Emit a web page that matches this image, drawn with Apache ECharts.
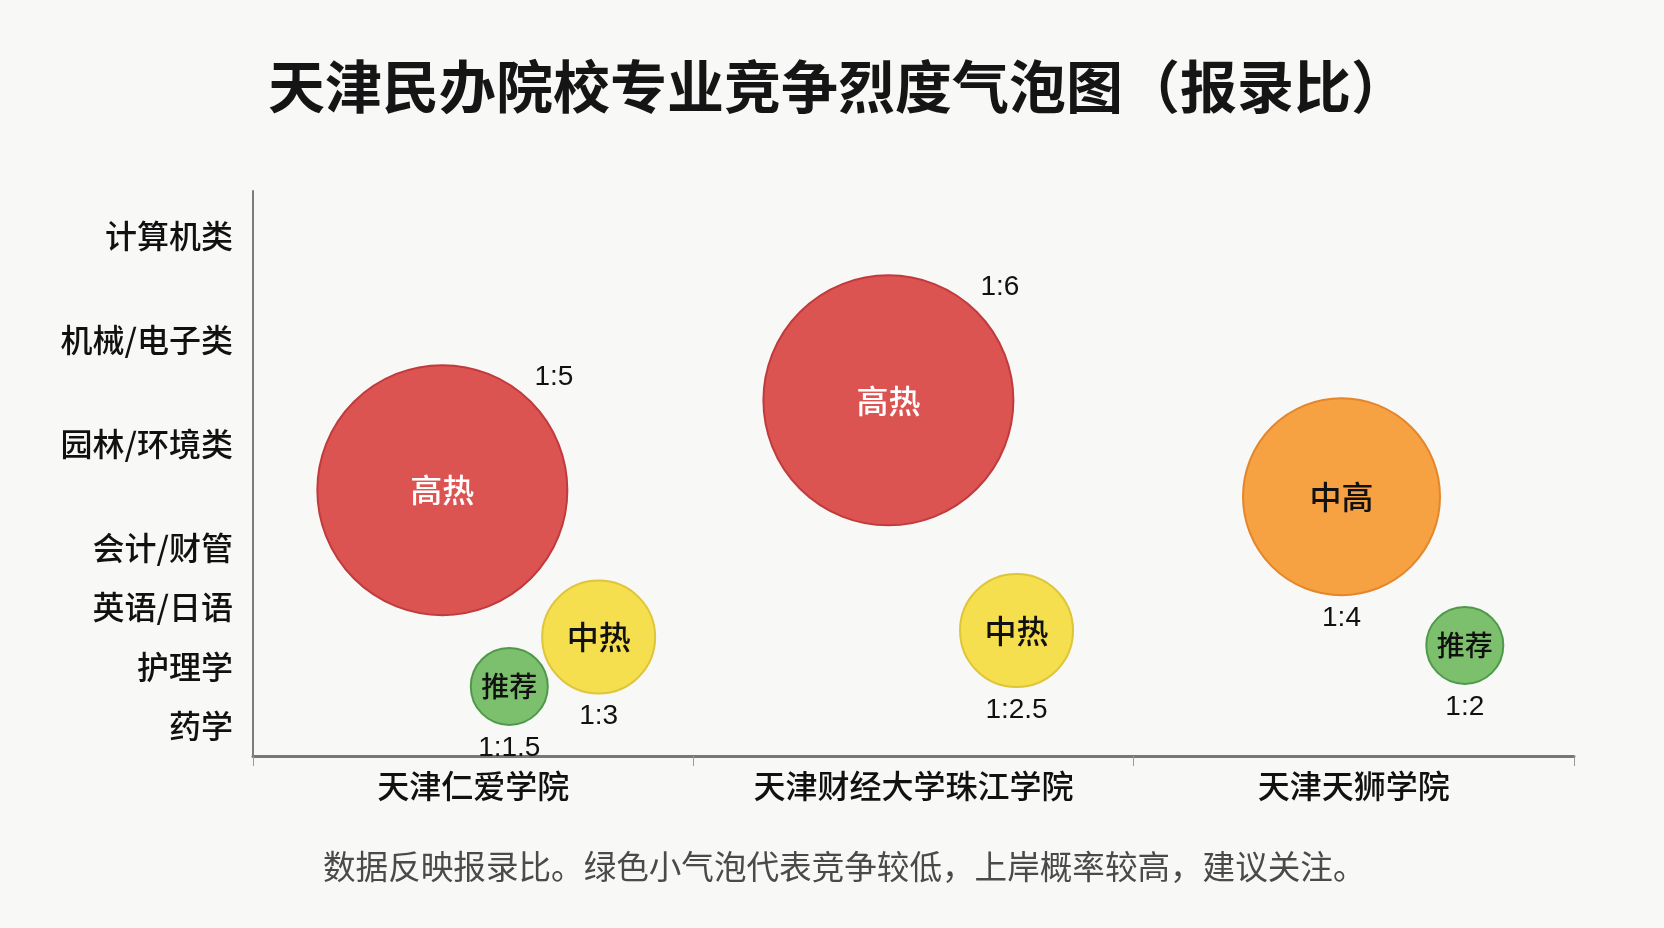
<!DOCTYPE html>
<html>
<head>
<meta charset="utf-8">
<script src="https://cdn.jsdelivr.net/npm/echarts@6/dist/echarts.min.js"></script>
<style>
html, body { margin: 0; padding: 0; background: #f8f8f6; }
#bubble_chart { width: 1664px; height: 928px; }
</style>
</head>
<body>
<div id="bubble_chart"></div>
<script>
var colleges = ['天津仁爱学院', '天津财经大学珠江学院', '天津天狮学院'];
var majors = ['药学', '护理学', '英语/日语', '会计/财管', '园林/环境类', '机械/电子类', '计算机类'];
var major_levels = [1, 2, 3, 4, 5.75, 7.5, 9.25];

// one entry per bubble
var bubble_x = [0.43, 0.785, 0.582, 1.443, 1.734, 2.472, 2.752];
var bubble_y = [4.97, 2.5, 1.67, 6.48, 2.61, 4.86, 2.36];
var ratios = [5, 3, 1.5, 6, 2.5, 4, 2];
var ratio_text = ['1:5', '1:3', '1:1.5', '1:6', '1:2.5', '1:4', '1:2'];
var heat = ['高热', '中热', '推荐', '高热', '中热', '中高', '推荐'];

var title_text = '天津民办院校专业竞争烈度气泡图（报录比）';
var note_text = '数据反映报录比。绿色小气泡代表竞争较低，上岸概率较高，建议关注。';

var font = '"Noto Sans CJK SC", "Noto Sans", sans-serif';
var num_font = '"Liberation Sans", Arial, sans-serif';
var heat_style = {
  '高热': { color: '#dc5452', border: '#c13a3c', text: '#ffffff', size: 250 },
  '中高': { color: '#f6a142', border: '#e5862b', text: '#111111', size: 197 },
  '中热': { color: '#f5df4e', border: '#dec53a', text: '#111111', size: 113 },
  '推荐': { color: '#7cbf6c', border: '#4f9a4a', text: '#111111', size: 77 }
};

function graph_bubbles(area) {
  var myChart = echarts.init(document.getElementById(area));

  var bubbles = [];
  var ratio_marks = [];
  for (var i = 0; i < ratios.length; i++) {
    var st = heat_style[heat[i]];
    bubbles.push({
      value: [bubble_x[i], bubble_y[i], ratios[i]],
      name: heat[i],
      symbolSize: st.size,
      itemStyle: { color: st.color, borderColor: st.border, borderWidth: 2, opacity: 1 },
      label: {
        color: st.text,
        fontSize: Math.min(32, Math.round(st.size * 0.37))
      }
    });
    var top_right = heat[i] === '高热';
    ratio_marks.push({
      value: [bubble_x[i], bubble_y[i], ratios[i]],
      name: ratio_text[i],
      symbolSize: st.size,
      label: top_right
        ? { position: 'insideTopRight', distance: 0, offset: [6, -2] }
        : { position: 'bottom', distance: 9 }
    });
  }

  var option = {
    backgroundColor: '#f8f8f6',
    animation: false,
    title: [
      {
        text: title_text,
        left: 263,
        top: 53,
        textStyle: { fontFamily: font, fontSize: 57, fontWeight: 'bold', color: '#151515' }
      },
      {
        text: note_text,
        left: 318,
        top: 845,
        textStyle: { fontFamily: font, fontSize: 32.6, fontWeight: 'normal', color: '#4a4a4a' }
      }
    ],
    grid: { left: 253, right: 90, top: 191, bottom: 172 },
    xAxis: [
      {
        type: 'category',
        data: colleges,
        boundaryGap: true,
        axisLine: { lineStyle: { color: '#777777', width: 3 } },
        axisTick: { show: true, length: 10, lineStyle: { color: '#9a9a9a', width: 1 } },
        axisLabel: { fontFamily: font, fontSize: 32, fontWeight: 500, color: '#111111', margin: 14 }
      },
      { type: 'value', min: 0, max: 3, show: false }
    ],
    yAxis: {
      type: 'value',
      min: 0.5,
      max: 10,
      splitLine: { show: false },
      axisTick: { show: false },
      axisLine: { show: true, lineStyle: { color: '#7d7d7d', width: 2 } },
      axisLabel: {
        customValues: major_levels,
        formatter: function (v) {
          var k = major_levels.indexOf(v);
          return k >= 0 ? majors[k] : '';
        },
        fontFamily: font,
        fontSize: 32,
        fontWeight: 500,
        color: '#111111',
        margin: 20
      }
    },
    series: [
      {
        name: '报录比',
        type: 'scatter',
        xAxisIndex: 1,
        data: bubbles,
        label: {
          show: true,
          position: 'inside',
          fontFamily: font,
          fontWeight: 500,
          formatter: '{b}'
        }
      },
      {
        name: '比值',
        type: 'scatter',
        xAxisIndex: 1,
        data: ratio_marks,
        silent: true,
        itemStyle: { color: 'rgba(0,0,0,0)', opacity: 1 },
        label: {
          show: true,
          formatter: '{b}',
          fontFamily: num_font,
          fontSize: 28,
          color: '#111111'
        }
      }
    ]
  };
  myChart.setOption(option);

  window.addEventListener('resize', function () {
    if (myChart != null && myChart != undefined) {
      myChart.resize();
    }
  });
}

graph_bubbles('bubble_chart');
</script>
</body>
</html>
